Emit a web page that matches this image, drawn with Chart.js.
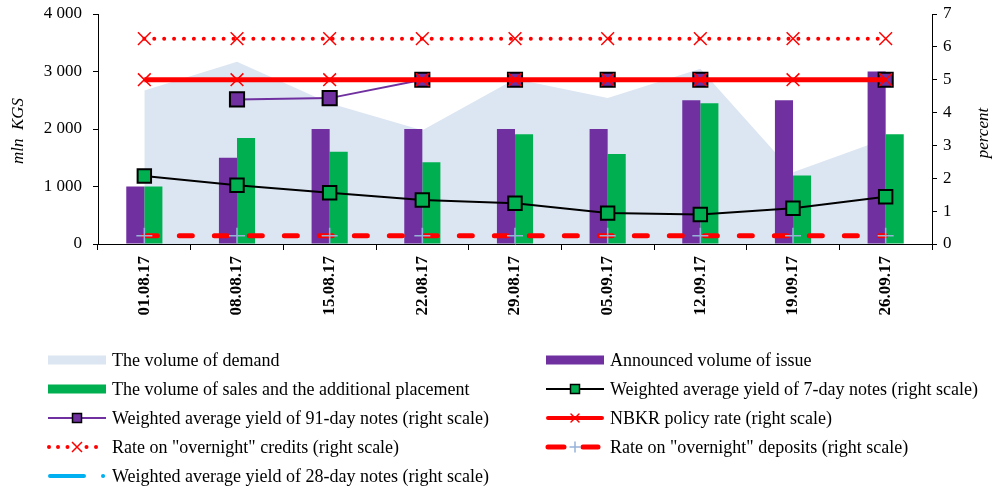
<!DOCTYPE html>
<html>
<head>
<meta charset="utf-8">
<script src="https://cdn.jsdelivr.net/npm/chart.js@4.4.1/dist/chart.umd.min.js"></script>
<style>
  body { margin: 0; background: #fff; }
  canvas { display: block; }
</style>
</head>
<body>
<canvas id="myChart" width="993" height="488"></canvas>
<script>
const labels = ['01.08.17', '08.08.17', '15.08.17', '22.08.17', '29.08.17', '05.09.17', '12.09.17', '19.09.17', '26.09.17'];

// left scale, mln KGS
const demand = [2670, 3170, 2450, 1980, 2870, 2540, 3050, 1250, 1830];
const announced = [1000, 1500, 2000, 2000, 2000, 2000, 2500, 2500, 3000];
const sales = [1000, 1845, 1605, 1420, 1910, 1565, 2450, 1190, 1910];

// right scale, percent
const yield7 = [2.07, 1.79, 1.56, 1.34, 1.24, 0.94, 0.90, 1.09, 1.44];
const yield91 = [null, 4.40, 4.44, 5.0, 5.0, 5.0, 5.0, null, 5.0];
const policyRate = [5, 5, 5, 5, 5, 5, 5, 5, 5];
const creditRate = [6.25, 6.25, 6.25, 6.25, 6.25, 6.25, 6.25, 6.25, 6.25];
const depositRate = [0.25, 0.25, 0.25, 0.25, 0.25, 0.25, 0.25, 0.25, 0.25];
const yield28 = [null, null, null, null, null, null, null, null, null];

const leftTicks = [0, 1000, 2000, 3000, 4000];
const rightTicks = [0, 1, 2, 3, 4, 5, 6, 7];

const FONT = '"Liberation Serif", "Times New Roman", serif';
const PURPLE = '#7030A0';
const GREEN = '#00B050';
const AREA = '#DCE6F2';
const RED = '#FF0000';
const LIGHTBLUE = '#00B0F0';
const PLUS = '#95B3D7';

const fmt = v => String(v).replace(/\B(?=(\d{3})+(?!\d))/g, ' ');

// legend: two columns, drawn on the canvas
const legendItems = [
    { text: 'The volume of demand', kind: 'area', col: 0, row: 0 },
    { text: 'Announced volume of issue', kind: 'barPurple', col: 1, row: 0 },
    { text: 'The volume of sales and the additional placement', kind: 'barGreen', col: 0, row: 1 },
    { text: 'Weighted average yield of 7-day notes (right scale)', kind: 'y7', col: 1, row: 1 },
    { text: 'Weighted average yield of 91-day notes (right scale)', kind: 'y91', col: 0, row: 2 },
    { text: 'NBKR policy rate (right scale)', kind: 'policy', col: 1, row: 2 },
    { text: 'Rate on "overnight" credits (right scale)', kind: 'credit', col: 0, row: 3 },
    { text: 'Rate on "overnight" deposits (right scale)', kind: 'deposit', col: 1, row: 3 },
    { text: 'Weighted average yield of 28-day notes (right scale)', kind: 'y28', col: 0, row: 4 }
];

const drawX = (ctx, x, y, r, color, w) => {
    ctx.save();
    ctx.strokeStyle = color;
    ctx.lineWidth = w;
    ctx.beginPath();
    ctx.moveTo(x - r, y - r); ctx.lineTo(x + r, y + r);
    ctx.moveTo(x - r, y + r); ctx.lineTo(x + r, y - r);
    ctx.stroke();
    ctx.restore();
};

const drawSample = (ctx, kind, x0, x1, y) => {
    const mid = (x0 + x1) / 2;
    ctx.save();
    ctx.lineCap = 'butt';
    if (kind === 'area' || kind === 'barPurple' || kind === 'barGreen') {
        ctx.fillStyle = kind === 'area' ? AREA : (kind === 'barPurple' ? PURPLE : GREEN);
        ctx.fillRect(x0, y - 4.5, x1 - x0, 9);
    } else if (kind === 'y7' || kind === 'y91') {
        ctx.strokeStyle = kind === 'y7' ? '#000' : PURPLE;
        ctx.lineWidth = 2;
        ctx.beginPath(); ctx.moveTo(x0, y); ctx.lineTo(x1, y); ctx.stroke();
        ctx.fillStyle = kind === 'y7' ? GREEN : PURPLE;
        ctx.fillRect(mid - 4.5, y - 4.5, 9, 9);
        ctx.strokeStyle = '#000';
        ctx.lineWidth = 1.5;
        ctx.strokeRect(mid - 4.5, y - 4.5, 9, 9);
    } else if (kind === 'policy') {
        ctx.strokeStyle = RED;
        ctx.lineWidth = 4;
        ctx.lineCap = 'round';
        ctx.beginPath(); ctx.moveTo(x0 + 2, y); ctx.lineTo(x1 - 2, y); ctx.stroke();
        drawX(ctx, mid, y, 4, RED, 1.5);
    } else if (kind === 'credit') {
        ctx.fillStyle = RED;
        [-28, -19, -9.5, 9.5, 19].forEach(d => {
            ctx.beginPath(); ctx.arc(mid + d, y, 2, 0, Math.PI * 2); ctx.fill();
        });
        drawX(ctx, mid, y, 5, RED, 1.5);
    } else if (kind === 'deposit') {
        ctx.strokeStyle = RED;
        ctx.lineWidth = 5;
        ctx.lineCap = 'round';
        ctx.beginPath();
        ctx.moveTo(x0 + 2, y); ctx.lineTo(x0 + 18, y);
        ctx.moveTo(x0 + 37, y); ctx.lineTo(x1 - 6, y);
        ctx.stroke();
        ctx.strokeStyle = PLUS;
        ctx.lineWidth = 1.5;
        ctx.beginPath();
        ctx.moveTo(mid - 5, y); ctx.lineTo(mid + 5, y);
        ctx.moveTo(mid, y - 5); ctx.lineTo(mid, y + 5);
        ctx.stroke();
    } else if (kind === 'y28') {
        ctx.strokeStyle = LIGHTBLUE;
        ctx.lineWidth = 4;
        ctx.lineCap = 'round';
        ctx.beginPath();
        ctx.moveTo(x0 + 2, y); ctx.lineTo(x0 + 36, y);
        ctx.moveTo(x1 - 3, y); ctx.lineTo(x1 - 2.9, y);
        ctx.stroke();
    }
    ctx.restore();
};

const legendAndTitles = {
    id: 'legendAndTitles',
    afterDraw(chart) {
        const ctx = chart.ctx;
        ctx.save();
        ctx.fillStyle = '#000';
        ctx.font = '18px ' + FONT;
        ctx.textBaseline = 'middle';
        ctx.textAlign = 'left';
        legendItems.forEach(item => {
            const x0 = item.col === 0 ? 48 : 546;
            const y = 360 + item.row * 29;
            drawSample(ctx, item.kind, x0, x0 + 58, y);
            ctx.fillText(item.text, x0 + 64, y + 1);
        });

        // axis titles
        ctx.font = 'italic 17px ' + FONT;
        ctx.textAlign = 'center';
        ctx.save();
        ctx.translate(19, 131);
        ctx.rotate(-Math.PI / 2);
        ctx.fillText('mln  KGS', 0, 0);
        ctx.restore();
        ctx.save();
        ctx.translate(984, 133);
        ctx.rotate(-Math.PI / 2);
        ctx.fillText('percent', 0, 0);
        ctx.restore();
        ctx.restore();
    }
};

const lineBase = {
    type: 'line',
    yAxisID: 'y1',
    tension: 0,
    fill: false
};

const noPad = s => { s.paddingTop = 0; s.paddingBottom = 0; };

const config = {
    data: {
        labels: labels,
        datasets: [
            {
                type: 'bar', label: 'Announced volume of issue', data: announced,
                backgroundColor: PURPLE, yAxisID: 'y', order: 5,
                categoryPercentage: 0.39, barPercentage: 1
            },
            {
                type: 'bar', label: 'The volume of sales and the additional placement', data: sales,
                backgroundColor: GREEN, yAxisID: 'y', order: 5,
                categoryPercentage: 0.39, barPercentage: 1
            },
            {
                type: 'line', label: 'The volume of demand', data: demand, yAxisID: 'y',
                backgroundColor: AREA, borderWidth: 0, borderColor: 'rgba(0,0,0,0)',
                fill: 'origin', pointRadius: 0, tension: 0, order: 6
            },
            Object.assign({}, lineBase, {
                label: 'Weighted average yield of 7-day notes (right scale)', data: yield7,
                borderColor: '#000', borderWidth: 2,
                pointStyle: 'rect', pointRadius: 9.5, pointBackgroundColor: GREEN,
                pointBorderColor: '#000', pointBorderWidth: 2, order: 3
            }),
            Object.assign({}, lineBase, {
                label: 'Weighted average yield of 91-day notes (right scale)', data: yield91,
                borderColor: PURPLE, borderWidth: 2, spanGaps: false,
                pointStyle: 'rect', pointRadius: 10, pointBackgroundColor: PURPLE,
                pointBorderColor: '#000', pointBorderWidth: 2, order: 2
            }),
            Object.assign({}, lineBase, {
                label: 'NBKR policy rate (right scale)', data: policyRate,
                borderColor: RED, borderWidth: 5,
                pointStyle: 'crossRot', pointRadius: 9, pointBorderColor: RED,
                pointBorderWidth: 1.5, order: 0
            }),
            Object.assign({}, lineBase, {
                label: 'Rate on "overnight" credits (right scale)', data: creditRate,
                borderColor: RED, borderWidth: 4, borderDash: [0.01, 9.9], borderCapStyle: 'round',
                pointStyle: 'crossRot', pointRadius: 9, pointBorderColor: RED,
                pointBorderWidth: 1.5, order: 1
            }),
            Object.assign({}, lineBase, {
                label: 'Rate on "overnight" deposits (right scale)', data: depositRate,
                borderColor: RED, borderWidth: 5, borderDash: [13, 22], borderCapStyle: 'round',
                pointStyle: 'cross', pointRadius: 8, pointBorderColor: PLUS,
                pointBorderWidth: 1.5, order: 4
            }),
            Object.assign({}, lineBase, {
                label: 'Weighted average yield of 28-day notes (right scale)', data: yield28,
                borderColor: LIGHTBLUE, borderWidth: 4, pointRadius: 0, order: 4
            })
        ]
    },
    options: {
        responsive: false,
        animation: false,
        layout: { padding: { top: 14, left: 0, right: 0, bottom: 0 } },
        plugins: {
            legend: { display: false },
            tooltip: { enabled: false }
        },
        scales: {
            x: {
                afterFit: s => { s.height = 244; },
                grid: { display: true, drawOnChartArea: false, tickLength: 6, color: '#000', offset: true },
                border: { display: true, color: '#000', width: 1 },
                ticks: {
                    autoSkip: false, minRotation: 90, maxRotation: 90, padding: 6,
                    color: '#000', font: { family: FONT, size: 17, weight: 'bold' }
                }
            },
            y: {
                position: 'left',
                min: 0, max: 4000,
                afterFit: s => { s.width = 98; noPad(s); },
                afterBuildTicks: s => { s.ticks = leftTicks.map(v => ({ value: v })); },
                grid: { display: true, drawOnChartArea: false, tickLength: 5, color: '#000' },
                border: { display: true, color: '#000', width: 1 },
                ticks: {
                    padding: 11, color: '#000', font: { family: FONT, size: 17 },
                    callback: v => fmt(v)
                }
            },
            y1: {
                position: 'right',
                min: 0, max: 7,
                afterFit: s => { s.width = 61; noPad(s); },
                afterBuildTicks: s => { s.ticks = rightTicks.map(v => ({ value: v })); },
                grid: { display: true, drawOnChartArea: false, tickLength: 5, color: '#000' },
                border: { display: true, color: '#000', width: 1 },
                ticks: {
                    padding: 6, color: '#000', font: { family: FONT, size: 17 }
                }
            }
        }
    },
    plugins: [legendAndTitles]
};

const myChart = new Chart(document.getElementById('myChart'), config);
</script>
</body>
</html>
